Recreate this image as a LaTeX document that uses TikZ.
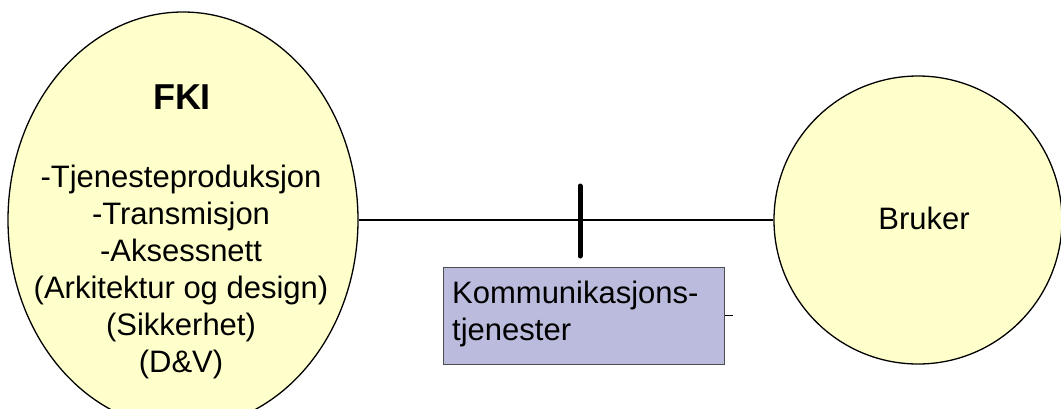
\documentclass[tikz,border=0pt]{standalone}
\usepackage{fontspec}
\setmainfont{Liberation Sans}
\usepackage{xcolor}
\usetikzlibrary{shapes.geometric, positioning, calc}

\definecolor{paleyellow}{RGB}{255,255,204}
\definecolor{lavender}{RGB}{187,187,221}

\tikzset{
  blob/.style={draw=black, line width=1.3pt, fill=paleyellow, inner sep=0pt},
  servbox/.style={draw=black!70, line width=1pt, fill=lavender, inner sep=0pt,
    minimum width=281pt, minimum height=97pt},
  txt/.style={font=\fontsize{31}{37}\selectfont, inner sep=0pt}
}

\begin{document}
\begin{tikzpicture}[x=1pt,y=-1pt]

        \clip (0,0) rectangle (1061,408);

        % FKI ellipse
        \node[blob, ellipse, minimum width=350pt, minimum height=416pt] (fki) at (183,220) {};
        \node[txt, anchor=base, font=\bfseries\fontsize{36}{40}\selectfont] (fkititle) at (182,109) {FKI};
        \node[txt, anchor=base, align=center] (fkilist) at (181,372)
              {-Tjenesteproduksjon\\-Transmisjon\\-Aksessnett\\(Arkitektur og design)\\(Sikkerhet)\\(D\&V)};

        % Bruker circle
        \node[blob, circle, minimum size=288pt] (bruker) at (918,220) {};
        \node[txt, anchor=base] (brukertxt) at (924,229) {Bruker};

        % Connector with tick
        \draw[line width=1.3pt] (fki.east) -- (bruker.west);
        \coordinate (ticktop) at (580,186);
        \coordinate (tickbot) at (580,256);
        \draw[line width=5pt, line cap=round] (ticktop) -- (tickbot);

        % Service box
        \node[servbox] (komm) at (583.5,315.5) {};
        \node[txt, anchor=base west, align=left] (kommtxt) at (452,340)
              {Kommunikasjons-\\tjenester};
        \coordinate (stub) at ($(komm.east)+(8,0)$);
        \draw[line width=0.8pt] (komm.east) -- (stub);

\end{tikzpicture}
\end{document}
